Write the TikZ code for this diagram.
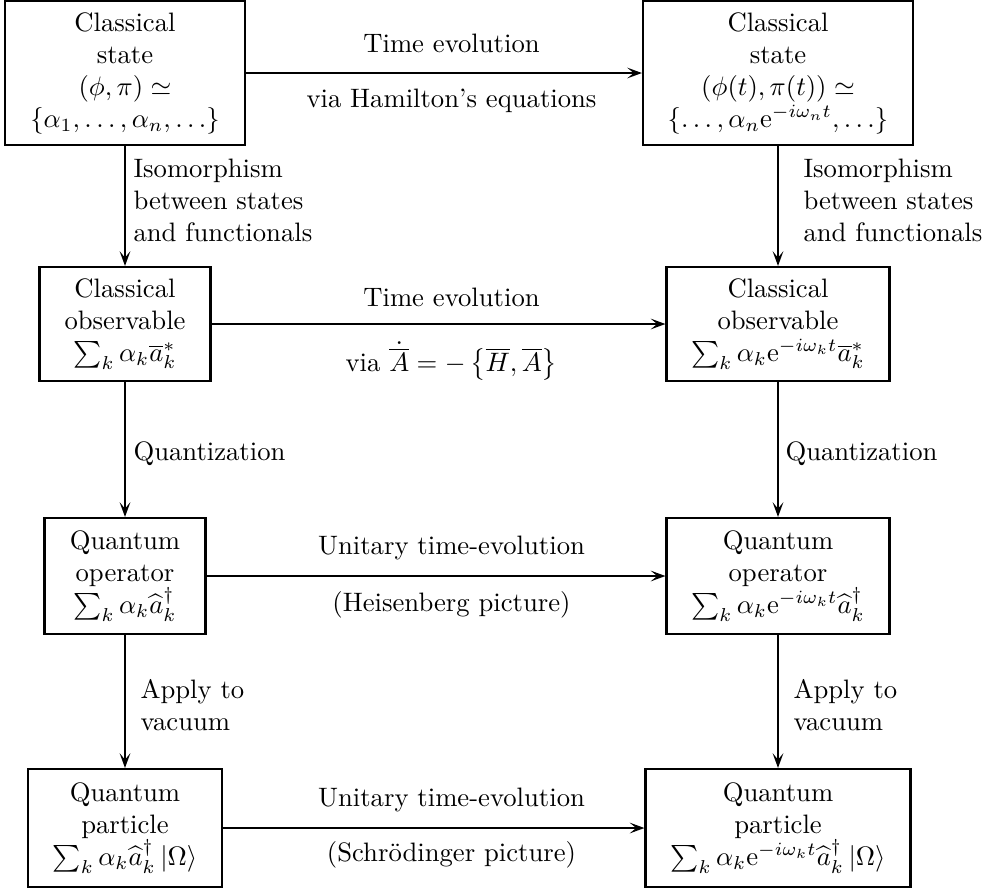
\documentclass[tikz,border=0pt]{standalone}
\usetikzlibrary{arrows.meta}
\begin{document}
\begin{tikzpicture}[x=0.375pt,y=-0.375pt,
  box/.style n args={2}{draw,thick,align=center,inner sep=0pt,
    minimum width=#1*0.375pt,minimum height=#2*0.375pt},
  lab/.style={inner sep=0pt},
  vlab/.style={inner sep=0pt,align=left,anchor=north west},
  conn/.style={-{Stealth[length=5.5pt,width=4pt,inset=2.4pt]},thick}]
\useasboundingbox (0,0) rectangle (987,888);
% boxes
\node[box={240}{144}] (cs1) at (125,73) {Classical\\state\\$(\phi,\pi)\simeq$\\$\{\alpha_1,\ldots,\alpha_n,\ldots\}$};
\node[box={270}{144}] (cs2) at (778,73) {Classical\\state\\$(\phi(t),\pi(t))\simeq$\\$\{\ldots,\alpha_n\mathrm{e}^{-i\omega_n t},\ldots\}$};
\node[box={171}{114}] (co1) at (125,324) {Classical\\observable\\$\sum_k\alpha_k\overline{a}^*_k$};
\node[box={223}{114}] (co2) at (778,324) {Classical\\observable\\$\sum_k\alpha_k\mathrm{e}^{-i\omega_k t}\overline{a}^*_k$};
\node[box={161}{116}] (qo1) at (125,576) {Quantum\\operator\\$\sum_k\alpha_k\widehat{a}^\dagger_k$};
\node[box={223}{116}] (qo2) at (778,576) {Quantum\\operator\\$\sum_k\alpha_k\mathrm{e}^{-i\omega_k t}\widehat{a}^\dagger_k$};
\node[box={194}{118}] (qp1) at (125,828) {Quantum\\particle\\$\sum_k\alpha_k\widehat{a}^\dagger_k\left|\Omega\right\rangle$};
\node[box={265}{118}] (qp2) at (778,828) {Quantum\\particle\\$\sum_k\alpha_k\mathrm{e}^{-i\omega_k t}\widehat{a}^\dagger_k\left|\Omega\right\rangle$};
% horizontal connectors
\draw[conn] (cs1) -- (cs2);
\draw[conn] (co1) -- (co2);
\draw[conn] (qo1) -- (qo2);
\draw[conn] (qp1) -- (qp2);
% vertical connectors
\draw[conn] (cs1) -- (co1);
\draw[conn] (cs2) -- (co2);
\draw[conn] (co1) -- (qo1);
\draw[conn] (co2) -- (qo2);
\draw[conn] (qo1) -- (qp1);
\draw[conn] (qo2) -- (qp2);
% horizontal labels
\node[lab,anchor=base] (h1a) at (451.5,52) {Time evolution};
\node[lab,anchor=base] (h1b) at (451.5,107.5) {via Hamilton's equations};
\node[lab,anchor=base] (h2a) at (451.5,306) {Time evolution};
\node[lab,anchor=base] (h2b) at (451.5,371.5) {via $\dot{\overline{A}}=-\left\{\overline{H},\overline{A}\right\}$};
\node[lab,anchor=base] (h3a) at (451.5,554) {Unitary time-evolution};
\node[lab,anchor=base] (h3b) at (451.5,611) {(Heisenberg picture)};
\node[lab,anchor=base] (h4a) at (451.5,806) {Unitary time-evolution};
\node[lab,anchor=base] (h4b) at (451.5,861) {(Schr\"odinger picture)};
% vertical labels
\node[vlab] (v1l) at (133,158.5) {Isomorphism\\between states\\and functionals};
\node[vlab] (v1r) at (803,158) {Isomorphism\\between states\\and functionals};
\node[vlab] (v2l) at (133,441) {Quantization};
\node[vlab] (v2r) at (785,441) {Quantization};
\node[vlab] (v3l) at (140,678.5) {Apply to\\vacuum};
\node[vlab] (v3r) at (793,678.5) {Apply to\\vacuum};
\end{tikzpicture}
\end{document}
